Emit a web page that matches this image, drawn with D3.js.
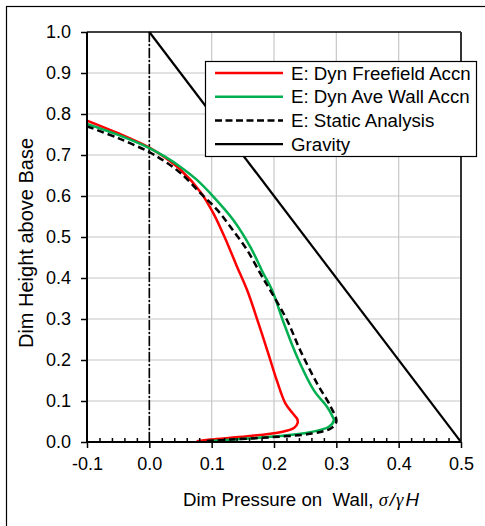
<!DOCTYPE html>
<html>
<head>
<meta charset="utf-8">
<script src="https://cdn.jsdelivr.net/npm/d3@7"></script>
<style>
  body { margin: 0; background: #fff; }
  text { font-family: "Liberation Sans", Arial, sans-serif; fill: #000; }
</style>
</head>
<body>
<div id="vis"></div>
<script>
// data: pressure (x) and height (y), both dimensionless
const freefieldP = [-0.1, -0.05, 0, 0.025, 0.05, 0.082, 0.103, 0.125, 0.14, 0.157, 0.175, 0.192, 0.205, 0.218, 0.23, 0.237, 0.238, 0.232, 0.21, 0.157, 0.098, 0.076];
const freefieldH = [0.784, 0.753, 0.718, 0.694, 0.664, 0.61, 0.557, 0.485, 0.43, 0.37, 0.29, 0.21, 0.148, 0.095, 0.07, 0.057, 0.047, 0.034, 0.024, 0.014, 0.006, 0.002];

const wallP = [-0.1, -0.05, 0, 0.025, 0.05, 0.075, 0.103, 0.135, 0.162, 0.183, 0.197, 0.216, 0.237, 0.264, 0.285, 0.293, 0.296, 0.288, 0.258, 0.189, 0.135, 0.093];
const wallH = [0.776, 0.749, 0.717, 0.696, 0.671, 0.641, 0.598, 0.541, 0.476, 0.411, 0.37, 0.289, 0.208, 0.126, 0.086, 0.065, 0.053, 0.037, 0.024, 0.012, 0.006, 0.002];

const staticP = [-0.1, -0.05, 0, 0.025, 0.05, 0.082, 0.109, 0.13, 0.157, 0.178, 0.194, 0.221, 0.242, 0.269, 0.291, 0.3, 0.291, 0.258, 0.189, 0.13, 0.09];
const staticH = [0.770, 0.741, 0.707, 0.684, 0.656, 0.607, 0.566, 0.525, 0.468, 0.411, 0.37, 0.297, 0.224, 0.143, 0.086, 0.05, 0.033, 0.02, 0.011, 0.006, 0.002];

const gravityP = [0, 0.5];
const gravityH = [1, 0];

const wallLineP = [0, 0];
const wallLineH = [0, 1];

const xTicks = [-0.1, 0, 0.1, 0.2, 0.3, 0.4, 0.5];
const yTicks = [0, 0.1, 0.2, 0.3, 0.4, 0.5, 0.6, 0.7, 0.8, 0.9, 1.0];

const seriesNames = ["E: Dyn Freefield Accn", "E: Dyn Ave Wall Accn", "E: Static Analysis", "Gravity"];

const W = 485, H = 526;
const plot = { left: 87, right: 461, top: 32, bottom: 442 };

const svg = d3.select('#vis')
  .append('svg')
  .attr('width', W)
  .attr('height', H);

// outer chart border (runs off the right and bottom of the picture)
svg.append('rect')
  .attr('x', 6.5).attr('y', 6.5)
  .attr('width', 520).attr('height', 560)
  .attr('fill', 'none')
  .attr('stroke', '#000')
  .attr('stroke-width', 1.2);

const x = d3.scaleLinear().domain([-0.1, 0.5]).range([plot.left, plot.right]);
const y = d3.scaleLinear().domain([0, 1]).range([plot.bottom, plot.top]);

// gridlines
svg.append('g')
  .selectAll('line')
  .data(yTicks.slice(1, -1))
  .enter()
  .append('line')
    .attr('x1', plot.left).attr('x2', plot.right)
    .attr('y1', d => y(d)).attr('y2', d => y(d))
    .attr('stroke', '#d9d9d9')
    .attr('stroke-width', 1.5);

svg.append('g')
  .selectAll('line')
  .data(xTicks.slice(1, -1))
  .enter()
  .append('line')
    .attr('x1', d => x(d)).attr('x2', d => x(d))
    .attr('y1', plot.top).attr('y2', plot.bottom)
    .attr('stroke', '#c8c8c8')
    .attr('stroke-width', 1.2);

// top and right frame
svg.append('line')
  .attr('x1', plot.left).attr('x2', plot.right)
  .attr('y1', plot.top).attr('y2', plot.top)
  .attr('stroke', '#000').attr('stroke-width', 1.5);
svg.append('line')
  .attr('x1', plot.right).attr('x2', plot.right)
  .attr('y1', plot.top).attr('y2', plot.bottom)
  .attr('stroke', '#333').attr('stroke-width', 2);

svg.append('clipPath').attr('id', 'clip')
  .append('rect')
  .attr('x', plot.left).attr('y', plot.top - 2)
  .attr('width', plot.right - plot.left).attr('height', plot.bottom - plot.top + 2);

const g = svg.append('g').attr('clip-path', 'url(#clip)');

const zip = (ps, hs) => ps.map((p, i) => [p, hs[i]]);

const line = d3.line()
  .x(d => x(d[0]))
  .y(d => y(d[1]))
  .curve(d3.curveCatmullRom.alpha(0.5));

const straight = d3.line()
  .x(d => x(d[0]))
  .y(d => y(d[1]));

// wall position (dash-dot)
g.append('path')
  .attr('d', straight(zip(wallLineP, wallLineH)))
  .attr('fill', 'none')
  .attr('stroke', '#000')
  .attr('stroke-width', 1.6)
  .attr('stroke-dasharray', '10,2,2,2');

g.append('path')
  .attr('d', straight(zip(gravityP, gravityH)))
  .attr('fill', 'none')
  .attr('stroke', '#000')
  .attr('stroke-width', 2.2);

g.append('path')
  .attr('d', line(zip(freefieldP, freefieldH)))
  .attr('fill', 'none')
  .attr('stroke', '#ff0000')
  .attr('stroke-width', 2.5);

g.append('path')
  .attr('d', line(zip(wallP, wallH)))
  .attr('fill', 'none')
  .attr('stroke', '#00b050')
  .attr('stroke-width', 2.5);

g.append('path')
  .attr('d', line(zip(staticP, staticH)))
  .attr('fill', 'none')
  .attr('stroke', '#000')
  .attr('stroke-width', 2.5)
  .attr('stroke-dasharray', '7,4');

// axes
const fmt = d => d3.format('.1f')(d).replace('−', '-');

const yAxis = svg.append('g')
  .attr('transform', `translate(${plot.left},0)`)
  .call(d3.axisLeft(y).tickValues(yTicks).tickSize(6).tickPadding(10).tickFormat(fmt));

const minorX = d3.range(-0.1, 0.5001, 0.02).filter(v => Math.abs(Math.round(v * 10) - v * 10) > 1e-6);
svg.append('g')
  .attr('transform', `translate(0,${plot.bottom})`)
  .call(d3.axisBottom(x).tickValues(minorX).tickSize(-4).tickFormat(''))
  .call(a => a.select('.domain').remove());

const xAxis = svg.append('g')
  .attr('transform', `translate(0,${plot.bottom})`)
  .call(d3.axisBottom(x).tickValues(xTicks).tickSize(6).tickPadding(9).tickFormat(fmt));

svg.selectAll('.tick line').attr('stroke', '#000').attr('stroke-width', 1.5);
[xAxis, yAxis].forEach(a => {
  a.select('.domain').attr('stroke', '#000').attr('stroke-width', 2);
  a.selectAll('text').style('font-size', '18px').style('font-family', '"Liberation Sans", Arial, sans-serif');
});
yAxis.select('.domain').attr('d', `M0,${plot.top}V${plot.bottom}`);
xAxis.select('.domain').attr('d', `M${plot.left},0H${plot.right}`);

// axis titles
svg.append('text')
  .attr('transform', `translate(26,${(plot.top + plot.bottom) / 2 + 6}) rotate(-90)`)
  .attr('text-anchor', 'middle')
  .attr('dominant-baseline', 'central')
  .style('font-size', '20px')
  .text('Dim Height above Base');

const xt = svg.append('text')
  .attr('x', 301)
  .attr('y', 506)
  .attr('text-anchor', 'middle')
  .style('font-size', '18.7px')
  .style('white-space', 'pre');
xt.append('tspan').text('Dim Pressure on  Wall, ');
xt.append('tspan').style('font-family', '"Liberation Serif", serif').style('font-style', 'italic').text('σ');
xt.append('tspan').attr('dx', 2).style('font-style', 'italic').text('/');
xt.append('tspan').attr('dx', 1).style('font-family', '"Liberation Serif", serif').style('font-style', 'italic').text('γ');
xt.append('tspan').attr('dx', 2).style('font-style', 'italic').text('H');

// legend
const legend = svg.append('g').attr('transform', 'translate(205,61)');
legend.append('rect')
  .attr('x', 0.5).attr('y', 0.5)
  .attr('width', 271).attr('height', 95)
  .attr('fill', '#fff')
  .attr('stroke', '#000')
  .attr('stroke-width', 1.2);

const legendStyle = [
  { color: '#ff0000', dash: null },
  { color: '#00b050', dash: null },
  { color: '#000', dash: '7,3.5' },
  { color: '#000', dash: null }
];

const row = legend.selectAll('.row')
  .data(seriesNames)
  .enter()
  .append('g')
  .attr('class', 'row')
  .attr('transform', (d, i) => `translate(0,${12 + i * 23.7})`);

row.append('line')
  .attr('x1', 10).attr('x2', 78)
  .attr('stroke', (d, i) => legendStyle[i].color)
  .attr('stroke-width', (d, i) => i === 3 ? 2.2 : 2.5)
  .attr('stroke-dasharray', (d, i) => legendStyle[i].dash);

row.append('text')
  .attr('x', 86)
  .attr('dy', '0.35em')
  .style('font-size', '18.7px')
  .text(d => d);
</script>
</body>
</html>
